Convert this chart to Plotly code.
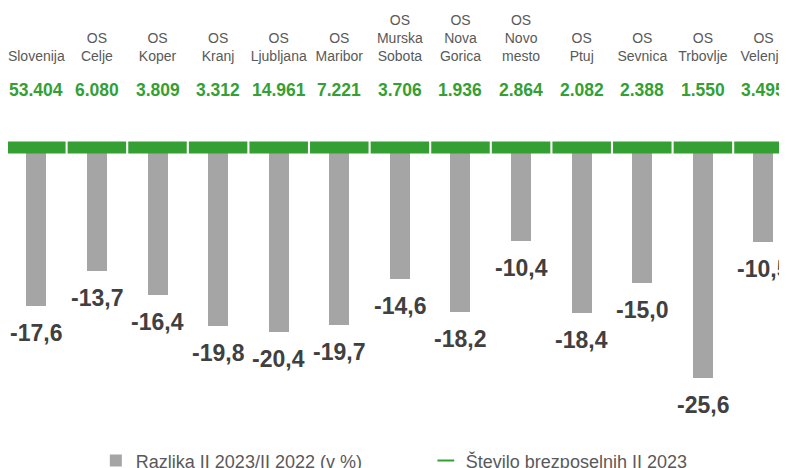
import plotly.graph_objects as go

categories = ["Slovenija", "OS<br>Celje", "OS<br>Koper", "OS<br>Kranj", "OS<br>Ljubljana",
              "OS<br>Maribor", "OS<br>Murska<br>Sobota", "OS<br>Nova<br>Gorica",
              "OS<br>Novo<br>mesto", "OS<br>Ptuj", "OS<br>Sevnica", "OS<br>Trbovlje",
              "OS<br>Velenje"]
razlika = [-17.6, -13.7, -16.4, -19.8, -20.4, -19.7, -14.6, -18.2, -10.4, -18.4, -15.0, -25.6, -10.5]
stevilo = [53404, 6080, 3809, 3312, 14961, 7221, 3706, 1936, 2864, 2082, 2388, 1550, 3495]
stevilo_labels = ["53.404", "6.080", "3.809", "3.312", "14.961", "7.221", "3.706", "1.936",
                  "2.864", "2.082", "2.388", "1.550", "3.495"]
baseline = [0] * len(categories)

GRAY = "#A5A5A5"
GREEN = "#34A034"
REG = "Liberation Sans, Arial, sans-serif"

fig = go.Figure()
fig.add_trace(go.Bar(
    x=categories, y=razlika, name="Razlika II 2023/II 2022 (v %)",
    marker=dict(color=GRAY, line=dict(width=0)), width=0.33,
))
fig.add_trace(go.Scatter(
    x=categories, y=baseline, mode="markers", name="Število brezposelnih II 2023",
    marker=dict(symbol="line-ew", size=41.8, color=GREEN,
                line=dict(color=GREEN, width=12)),
    customdata=stevilo, hoverinfo="x+text", text=stevilo_labels,
))

annotations = []
for c, v in zip(categories, razlika):
    annotations.append(dict(
        x=c, y=v, xref="x", yref="y", text=("%.1f" % v).replace(".", ","),
        showarrow=False, yanchor="middle", yshift=-27,
        font=dict(family=REG, size=23, color="#404040", weight="bold"),
    ))
for c, lab in zip(categories, stevilo_labels):
    annotations.append(dict(
        x=c, y=0, xref="x", yref="y", text=lab,
        showarrow=False, yanchor="middle", yshift=57.5,
        font=dict(family=REG, size=17.5, color=GREEN, weight="bold"),
    ))

fig.update_layout(
    width=787, height=468,
    margin=dict(l=0, r=0, t=59, b=0, autoexpand=False),
    paper_bgcolor="white", plot_bgcolor="white",
    showlegend=True,
    legend=dict(orientation="h", x=0.1116, xanchor="left", y=0.037, yanchor="middle",
                font=dict(family=REG, size=18, color="#595959"),
                itemsizing="constant", bgcolor="rgba(0,0,0,0)",
                entrywidth=285, entrywidthmode="pixels"),
    xaxis=dict(side="top", range=[-0.467, 12.52], showline=False, showgrid=False,
               ticks="", zeroline=False, tickangle=0, automargin=False,
               ticklabelstandoff=2,
               tickfont=dict(family=REG, size=14, color="#595959")),
    yaxis=dict(range=[-36.42, 8.924], showgrid=False, zeroline=False,
               showticklabels=False, ticks="", showline=False, automargin=False),
    annotations=annotations,
    bargap=0,
)

fig.write_html("out.html")
